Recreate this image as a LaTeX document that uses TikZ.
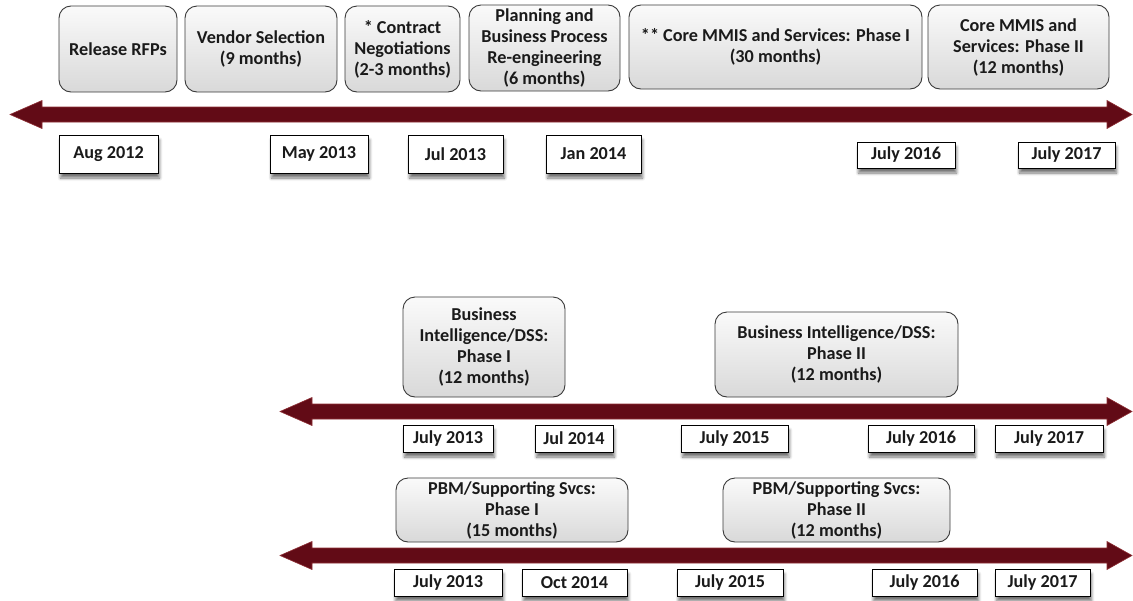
\documentclass[tikz,border=0pt]{standalone}
\usepackage{fontspec}
\setmainfont{Carlito}
\usetikzlibrary{shadows,shadows.blur}
\definecolor{arrowred}{HTML}{620B16}
\definecolor{arrowedge}{HTML}{8E2E34}
\definecolor{boxedge}{HTML}{3A3A3A}
\definecolor{txt}{HTML}{1A1A1A}
\tikzset{
  phasebox/.style={draw=boxedge, line width=0.9pt, rounded corners=12pt,
    top color=gray!4, bottom color=gray!30, align=center, inner sep=0pt,
    text=txt, font=\fontsize{18.2}{21}\selectfont\bfseries},
  datebox/.style={draw=black, line width=1pt, fill=white, inner sep=0pt,
    text=txt, font=\fontsize{18.2}{21}\selectfont\bfseries,
    blur shadow={shadow xshift=1.5pt, shadow yshift=-5pt, shadow blur steps=6, shadow blur radius=3pt, shadow opacity=55}},
}
\newcommand{\timearrow}[3]{% left tip x, right tip x, center y
  \fill[arrowred, draw=arrowedge, line width=0.6pt]
    (#1,#3) -- (#1+32,#3-14) -- (#1+32,#3-7.5) -- (#2-25,#3-7.5) -- (#2-25,#3-14)
    -- (#2,#3) -- (#2-25,#3+14) -- (#2-25,#3+7.5) -- (#1+32,#3+7.5) -- (#1+32,#3+14) -- cycle;
}
\begin{document}
\begin{tikzpicture}[x=1pt, y=-1pt]
\useasboundingbox (0,0) rectangle (1133,600);

% ---- top timeline ----
\timearrow{10}{1132}{114.5}
\node[phasebox, minimum width=118pt, minimum height=86pt] (rfp) at (118,49) {Release RFPs};
\node[phasebox, minimum width=152pt, minimum height=86pt] (vendor) at (261,49) {Vendor Selection\\(9 months)};
\node[phasebox, minimum width=115pt, minimum height=86pt] (contract) at (402.5,49) {* Contract\\Negotiations\\(2-3 months)};
\node[phasebox, minimum width=151pt, minimum height=86pt] (plan) at (544.5,48) {Planning and\\Business Process\\Re-engineering\\(6 months)};
\node[phasebox, minimum width=293pt, minimum height=84pt] (core1) at (775.5,47) {** Core MMIS and Services: Phase I\\(30 months)};
\node[phasebox, minimum width=181pt, minimum height=84pt] (core2) at (1018.5,47) {Core MMIS and\\Services: Phase II\\(12 months)};

\node[datebox, minimum width=99pt, minimum height=38pt] (d1) at (108.5,154) {Aug 2012};
\node[datebox, minimum width=98pt, minimum height=38pt] (d2) at (319,154) {May 2013};
\node[datebox, minimum width=95pt, minimum height=38pt] (d3) at (455.5,154) {Jul 2013};
\node[datebox, minimum width=95pt, minimum height=38pt] (d4) at (593.5,154) {Jan 2014};
\node[datebox, minimum width=98pt, minimum height=26pt] (d5) at (906,155) {July 2016};
\node[datebox, minimum width=97pt, minimum height=26pt] (d6) at (1066.5,155) {July 2017};

% ---- middle timeline ----
\timearrow{280}{1132}{411.5}
\node[phasebox, minimum width=162pt, minimum height=100pt] (bi1) at (484,347) {Business\\Intelligence/DSS:\\Phase I\\(12 months)};
\node[phasebox, minimum width=243pt, minimum height=85pt] (bi2) at (836.5,354.5) {Business Intelligence/DSS:\\Phase II\\(12 months)};

\node[datebox, minimum width=90pt, minimum height=27pt] (m1) at (448,438.5) {July 2013};
\node[datebox, minimum width=78pt, minimum height=27pt] (m2) at (574,438.5) {Jul 2014};
\node[datebox, minimum width=107pt, minimum height=27pt] (m3) at (734.5,438.5) {July 2015};
\node[datebox, minimum width=106pt, minimum height=27pt] (m4) at (921,438.5) {July 2016};
\node[datebox, minimum width=108pt, minimum height=27pt] (m5) at (1049,438.5) {July 2017};

% ---- bottom timeline ----
\timearrow{280}{1132}{555.5}
\node[phasebox, minimum width=232pt, minimum height=64pt] (pbm1) at (512,510) {PBM/Supporting Svcs:\\Phase I\\(15 months)};
\node[phasebox, minimum width=227pt, minimum height=64pt] (pbm2) at (836.5,510) {PBM/Supporting Svcs:\\Phase II\\(12 months)};

\node[datebox, minimum width=108pt, minimum height=27pt] (b1) at (448,582.5) {July 2013};
\node[datebox, minimum width=105pt, minimum height=27pt] (b2) at (574.5,582.5) {Oct 2014};
\node[datebox, minimum width=106pt, minimum height=27pt] (b3) at (730,582.5) {July 2015};
\node[datebox, minimum width=105pt, minimum height=27pt] (b4) at (924.5,582.5) {July 2016};
\node[datebox, minimum width=95pt, minimum height=27pt] (b5) at (1042.5,582.5) {July 2017};
\end{tikzpicture}
\end{document}
